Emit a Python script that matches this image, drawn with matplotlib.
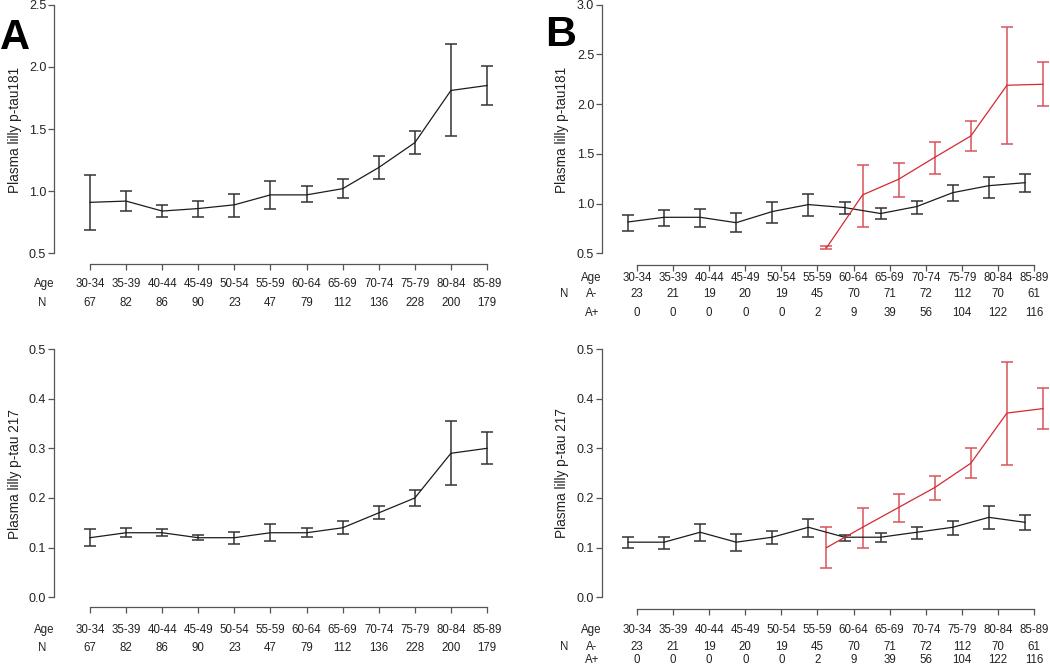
import numpy as np
import matplotlib
matplotlib.use("Agg")
import matplotlib.pyplot as plt
from matplotlib.transforms import blended_transform_factory

plt.rcParams['font.family'] = ['Liberation Sans', 'DejaVu Sans']

ages = ['30-34', '35-39', '40-44', '45-49', '50-54', '55-59',
        '60-64', '65-69', '70-74', '75-79', '80-84', '85-89']
n_all = [67, 82, 86, 90, 23, 47, 79, 112, 136, 228, 200, 179]
n_neg = [23, 21, 19, 20, 19, 45, 70, 71, 72, 112, 70, 61]
n_pos = [0, 0, 0, 0, 0, 2, 9, 39, 56, 104, 122, 116]

NA = np.nan
# Panel A, p-tau181
a181_mean = [0.91, 0.92, 0.84, 0.86, 0.89, 0.97, 0.97, 1.02, 1.19, 1.39, 1.81, 1.85]
a181_lo = [0.69, 0.84, 0.79, 0.795, 0.795, 0.86, 0.91, 0.945, 1.10, 1.30, 1.44, 1.69]
a181_hi = [1.13, 1.00, 0.89, 0.92, 0.98, 1.08, 1.04, 1.10, 1.28, 1.48, 2.18, 2.01]
# Panel A, p-tau217
a217_mean = [0.12, 0.13, 0.13, 0.12, 0.12, 0.13, 0.13, 0.14, 0.17, 0.20, 0.29, 0.30]
a217_lo = [0.103, 0.122, 0.123, 0.115, 0.108, 0.113, 0.122, 0.127, 0.158, 0.183, 0.226, 0.269]
a217_hi = [0.138, 0.140, 0.138, 0.126, 0.132, 0.147, 0.140, 0.154, 0.184, 0.217, 0.356, 0.333]
# Panel B, p-tau181, amyloid negative / positive
b181n_mean = [0.815, 0.862, 0.862, 0.808, 0.92, 0.99, 0.96, 0.90, 0.97, 1.11, 1.18, 1.21]
b181n_lo = [0.725, 0.775, 0.765, 0.71, 0.80, 0.88, 0.895, 0.84, 0.90, 1.03, 1.06, 1.12]
b181n_hi = [0.89, 0.94, 0.95, 0.91, 1.02, 1.10, 1.02, 0.955, 1.03, 1.19, 1.27, 1.30]
b181p_mean = [NA, NA, NA, NA, NA, 0.555, 1.087, 1.245, 1.465, 1.68, 2.19, 2.20]
b181p_lo = [NA, NA, NA, NA, NA, 0.54, 0.765, 1.07, 1.30, 1.53, 1.60, 1.985]
b181p_hi = [NA, NA, NA, NA, NA, 0.575, 1.39, 1.405, 1.62, 1.83, 2.78, 2.42]
# Panel B, p-tau217
b217n_mean = [0.111, 0.111, 0.131, 0.111, 0.121, 0.141, 0.121, 0.121, 0.131, 0.141, 0.161, 0.151]
b217n_lo = [0.099, 0.097, 0.113, 0.093, 0.107, 0.122, 0.114, 0.112, 0.118, 0.126, 0.137, 0.136]
b217n_hi = [0.121, 0.122, 0.148, 0.128, 0.133, 0.158, 0.126, 0.129, 0.142, 0.154, 0.183, 0.165]
b217p_mean = [NA, NA, NA, NA, NA, 0.10, 0.141, 0.181, 0.221, 0.27, 0.371, 0.38]
b217p_lo = [NA, NA, NA, NA, NA, 0.058, 0.10, 0.152, 0.196, 0.241, 0.267, 0.339]
b217p_hi = [NA, NA, NA, NA, NA, 0.142, 0.179, 0.208, 0.244, 0.30, 0.474, 0.422]

W, H = 1050, 666
fig = plt.figure(figsize=(W / 100, H / 100), dpi=100)

AX_COL = '#555555'
TXT = '#222222'
BLACK_LINE = '#1c1c1c'
BLACK_ERR = '#333333'
RED_LINE = '#d42a30'
RED_ERR = '#d8535c'
ROWFS = 8.3


def make_axes(left, right, top, bottom, x0, x11, yv1, yp1, yv2, yp2):
    ax = fig.add_axes([left / W, 1 - bottom / H, (right - left) / W, (bottom - top) / H])
    dx = (x11 - x0) / 11.0
    ax.set_xlim((left - x0) / dx, (right - x0) / dx)
    k = (yp1 - yp2) / (yv2 - yv1)  # px per unit
    ax.set_ylim(yv1 - (bottom - yp1) / k, yv2 + (yp2 - top) / k)
    ax.spines['top'].set_visible(False)
    ax.spines['right'].set_visible(False)
    for s in ('left', 'bottom'):
        ax.spines[s].set_color(AX_COL)
        ax.spines[s].set_linewidth(0.9)
    ax.spines['left'].set_bounds(yv1, yv2)
    ax.spines['bottom'].set_bounds(0, 11)
    ax.set_xticks(range(12))
    ax.set_xticklabels([])
    ax.tick_params(axis='both', direction='out', length=4.6, width=0.9, color=AX_COL)
    ax.tick_params(axis='y', labelsize=9.0, labelcolor=TXT, pad=1.0)
    ax.patch.set_alpha(0)
    return ax


def err(ax, x, m, lo, hi, lc, ec):
    m = np.asarray(m, float)
    lo = np.asarray(lo, float)
    hi = np.asarray(hi, float)
    ax.errorbar(x, m, yerr=[m - lo, hi - m], fmt='none', ecolor=ec,
                elinewidth=1.1, capsize=4.2, capthick=1.1, zorder=2)
    ax.plot(x, m, color=lc, lw=0.9, zorder=3)


def row(ax, ypx, labels, size=ROWFS):
    tr = blended_transform_factory(ax.transData, fig.transFigure)
    for i, lab in enumerate(labels):
        ax.text(i, 1 - ypx / H, str(lab), transform=tr, ha='center', va='center',
                fontsize=size, color=TXT, clip_on=False)


def ftext(xpx, ypx, s, **kw):
    fig.text(xpx / W, 1 - ypx / H, s, ha='center', va='center', color=TXT, **kw)


x = np.arange(12)

# ---------- A top ----------
ax1 = make_axes(54, 525, 0, 263.5, 90, 487, 0.5, 253.3, 2.5, 4.7)
ax1.set_yticks([0.5, 1.0, 1.5, 2.0, 2.5])
ax1.set_yticklabels(['0.5', '1.0', '1.5', '2.0', '2.5'])
err(ax1, x, a181_mean, a181_lo, a181_hi, BLACK_LINE, BLACK_ERR)
row(ax1, 284, ages)
row(ax1, 303, n_all)
ftext(44, 284, 'Age', fontsize=ROWFS)
ftext(42, 303, 'N', fontsize=ROWFS)
ftext(15, 130, 'Plasma lilly p-tau181', fontsize=9.8, rotation=90)

# ---------- A bottom ----------
ax3 = make_axes(54, 525, 340, 606.7, 90, 487, 0.0, 597.3, 0.5, 349)
ax3.set_yticks([0.0, 0.1, 0.2, 0.3, 0.4, 0.5])
ax3.set_yticklabels(['0.0', '0.1', '0.2', '0.3', '0.4', '0.5'])
err(ax3, x, a217_mean, a217_lo, a217_hi, BLACK_LINE, BLACK_ERR)
row(ax3, 630, ages)
row(ax3, 648, n_all)
ftext(44, 630, 'Age', fontsize=ROWFS)
ftext(42, 648, 'N', fontsize=ROWFS)
ftext(15, 474, 'Plasma lilly p-tau 217', fontsize=9.8, rotation=90)

# ---------- B top ----------
ax2 = make_axes(602, 1050, 0, 265, 637, 1034, 0.5, 253.3, 3.0, 4.7)
ax2.set_yticks([0.5, 1.0, 1.5, 2.0, 2.5, 3.0])
ax2.set_yticklabels(['0.5', '1.0', '1.5', '2.0', '2.5', '3.0'])
err(ax2, x - 0.25, b181n_mean, b181n_lo, b181n_hi, BLACK_LINE, BLACK_ERR)
err(ax2, x + 0.25, b181p_mean, b181p_lo, b181p_hi, RED_LINE, RED_ERR)
row(ax2, 278, ages)
row(ax2, 294, n_neg)
row(ax2, 313, n_pos)
ftext(591, 278, 'Age', fontsize=ROWFS)
ftext(564, 294, 'N', fontsize=ROWFS)
ftext(592, 294, 'A-', fontsize=ROWFS)
ftext(592, 313, 'A+', fontsize=ROWFS)
ftext(562, 130, 'Plasma lilly p-tau181', fontsize=9.8, rotation=90)

# ---------- B bottom ----------
ax4 = make_axes(602, 1050, 340, 609, 637, 1034, 0.0, 597.3, 0.5, 349)
ax4.set_yticks([0.0, 0.1, 0.2, 0.3, 0.4, 0.5])
ax4.set_yticklabels(['0.0', '0.1', '0.2', '0.3', '0.4', '0.5'])
err(ax4, x - 0.25, b217n_mean, b217n_lo, b217n_hi, BLACK_LINE, BLACK_ERR)
err(ax4, x + 0.25, b217p_mean, b217p_lo, b217p_hi, RED_LINE, RED_ERR)
row(ax4, 630, ages)
row(ax4, 647, n_neg)
row(ax4, 660, n_pos)
ftext(591, 630, 'Age', fontsize=ROWFS)
ftext(564, 647, 'N', fontsize=ROWFS)
ftext(592, 647, 'A-', fontsize=ROWFS)
ftext(592, 660, 'A+', fontsize=ROWFS)
ftext(562, 473, 'Plasma lilly p-tau 217', fontsize=9.8, rotation=90)

# panel letters
fig.text(15 / W, 1 - 38 / H, 'A', fontsize=30, fontweight='bold', ha='center', va='center', color='black')
fig.text(561 / W, 1 - 35 / H, 'B', fontsize=31, fontweight='bold', ha='center', va='center', color='black')

fig.savefig('out.png', dpi=100)
